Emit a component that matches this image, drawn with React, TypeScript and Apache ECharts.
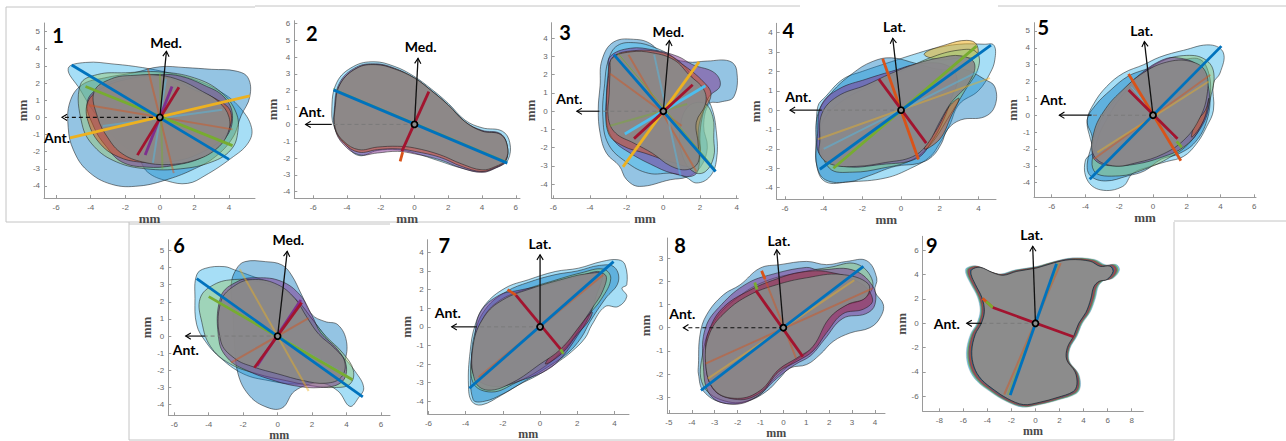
import React, { useEffect, useRef } from 'react';
import * as echarts from 'echarts';

type Pt = [number, number];

// ---------------- axis data (mm) ----------------
const X_TICKS: number[][] = [
  [-6, -4, -2, 0, 2, 4],
  [-6, -4, -2, 0, 2, 4, 6],
  [-6, -4, -2, 0, 2, 4],
  [-6, -4, -2, 0, 2, 4],
  [-6, -4, -2, 0, 2, 4, 6],
  [-6, -4, -2, 0, 2, 4, 6],
  [-6, -4, -2, 0, 2, 4],
  [-5, -4, -3, -2, -1, 0, 1, 2, 3, 4],
  [-8, -6, -4, -2, 0, 2, 4, 6, 8],
];
const Y_TICKS: number[][] = [
  [-4, -3, -2, -1, 0, 1, 2, 3, 4, 5],
  [-4, -3, -2, -1, 0, 1, 2, 3, 4, 5, 6],
  [-4, -3, -2, -1, 0, 1, 2, 3, 4],
  [-4, -3, -2, -1, 0, 1, 2, 3, 4],
  [-4, -3, -2, -1, 0, 1, 2, 3, 4, 5],
  [-4, -3, -2, -1, 0, 1, 2, 3, 4, 5],
  [-4, -3, -2, -1, 0, 1, 2, 3, 4],
  [-3, -2, -1, 0, 1, 2, 3],
  [-6, -4, -2, 0, 2, 4, 6],
];
const X_RANGE: Pt[] = [[-6.7, 5.5], [-7.12, 6.25], [-6.09, 4.09], [-6.43, 4.91], [-7.05, 6.1], [-6.35, 6.53], [-6.04, 4.78], [-5.07, 4.44], [-9.38, 8.97]];
const Y_RANGE: Pt[] = [[-4.7, 5.5], [-4.39, 6.16], [-4.77, 4.85], [-4.6, 4.48], [-4.87, 5.49], [-4.62, 5.62], [-4.68, 4.68], [-3.68, 3.87], [-7.23, 7.15]];
const AXIS_NAME = 'mm';

// ---------------- annotations ----------------
const PANEL_NUMBERS = ['1', '2', '3', '4', '5', '6', '7', '8', '9'];
const DIRECTION_LABELS = ['Med.', 'Med.', 'Med.', 'Lat.', 'Lat.', 'Med.', 'Lat.', 'Lat.', 'Lat.'];
const ANT_LABEL = 'Ant.';
const DIRECTION_TIPS: Pt[] = [[0.38, 3.85], [0.21, 3.92], [0.33, 3.87], [-0.43, 3.71], [-0.51, 4.37], [0.56, 4.94], [0, 3.87], [-0.29, 3.36], [-0.23, 6.33]];
const ANT_TIPS = [-5.66, -6.45, -4.72, -5.74, -5.55, -5.34, -4.75, -4.37, -5.72];
const ANT_SOLID_FROM: (number | null)[] = [null, -4.9, -3.5, -4.1, -3.64, -4.22, -3.4, null, -4.47];

// ---------------- outlines (mm) ----------------
const P1_OUTLINES: Record<string, Pt[]> = {
  cyan: [[-5.3, 2.85], [-4.3, 3.2], [-2.6, 3.1], [-1, 2.9], [0.5, 2.6], [2, 2.2], [3.5, 1.5], [4.6, 0.6], [5.3, -0.6], [5.1, -1.5], [4.1, -2.4], [2.6, -3.4], [1.6, -3.85], [0.4, -3.7], [-0.7, -3.2], [-1.3, -2.3], [-2.5, -1.3], [-3.8, 0.3], [-4.6, 1.6]],
  blue: [[-5.2, 0.9], [-4.5, 1.9], [-3.2, 2.3], [-1.5, 2.6], [0, 2.95], [1.5, 2.9], [3, 2.8], [4.4, 2.7], [5.1, 2.3], [5.2, 1.2], [4.7, 0.1], [4.2, -1.2], [3.2, -2.3], [2, -3.0], [0.5, -3.6], [-1.2, -4.0], [-2.8, -3.9], [-4.2, -3.1], [-5, -1.9], [-5.3, -0.6]],
  green: [[-4.6, 1.9], [-3.6, 2.5], [-2, 2.6], [0, 2.65], [2, 2.3], [3.5, 1.5], [4.4, 0.3], [4.5, -0.9], [4.1, -1.9], [3, -2.6], [1.2, -3.0], [-0.8, -3.0], [-2.5, -2.6], [-3.8, -1.7], [-4.5, -0.4]],
  purple: [[-4.2, 0.9], [-3.8, -0.6], [-3.1, -1.7], [-2.2, -2.6], [-0.8, -2.9], [0.8, -2.8], [2.5, -2.3], [3.8, -1.2], [4.2, 0.1], [3.7, 1.2], [2.5, 1.9], [1.2, 2.4], [0, 2.5], [-2, 2.3], [-3.4, 1.8]],
  orange: [[-4.2, 0.8], [-4.1, -0.4], [-3.4, -1.6], [-2.4, -2.3], [-1.2, -2.6], [0.5, -2.6], [2.3, -2.1], [3.8, -1.0], [4.1, 0.3], [3.2, 1.1], [2, 1.6], [1, 2.1], [0, 2.4], [-2, 2.2], [-3.5, 1.6]],
  gray: [[-3.8, 1.5], [-2.8, 2.25], [-1.5, 2.45], [0, 2.45], [1.2, 2.15], [2.3, 1.6], [3.4, 0.9], [4.0, 0], [3.9, -1.0], [3.2, -1.9], [2, -2.5], [0.5, -2.75], [-1, -2.6], [-2.2, -2.1], [-3.0, -1.2], [-3.6, 0]],
};
const P2_OUTLINES: Record<string, Pt[]> = {
  cyan: [[-4.9, 0.8], [-4.6, 2.5], [-3.6, 3.45], [-2.4, 3.72], [-1.2, 3.45], [-0.1, 2.9], [1, 2.1], [2, 1.25], [3, 0.25], [4, -0.2], [5.2, -0.4], [5.65, -1.1], [5.55, -2.1], [5.1, -2.45], [4, -2.8], [2.8, -2.6], [1.4, -2.15], [0, -1.7], [-1, -1.5], [-2.2, -1.55], [-3.3, -1.85], [-4.1, -1.15], [-4.7, -0.3]],
  purple: [[-4.75, 0.9], [-4.45, 2.45], [-3.45, 3.4], [-2.3, 3.6], [-1.2, 3.35], [0, 2.75], [1, 2.0], [2, 1.15], [3, 0.15], [4, -0.35], [5.1, -0.55], [5.5, -1.3], [5.4, -2.2], [4.8, -2.6], [4, -2.85], [2.8, -2.6], [1.5, -2.1], [0, -1.75], [-1, -1.6], [-2.2, -1.7], [-3.3, -1.8], [-4.2, -1.2], [-4.7, -0.3]],
  orange: [[-4.7, 0.95], [-4.4, 2.4], [-3.4, 3.35], [-2.3, 3.55], [-1.2, 3.3], [0, 2.75], [1, 2.0], [2, 1.15], [3, 0.15], [4, -0.4], [5.1, -0.6], [5.5, -1.3], [5.4, -2.15], [4.8, -2.55], [4, -2.8], [2.8, -2.5], [1.5, -1.95], [0, -1.6], [-1, -1.45], [-2.2, -1.5], [-3.3, -1.65], [-4.2, -1.1], [-4.7, -0.25]],
  gray: [[-4.7, 1.0], [-4.4, 2.4], [-3.4, 3.35], [-2.3, 3.55], [-1.2, 3.3], [0, 2.75], [1, 2.0], [2, 1.15], [3, 0.15], [4, -0.4], [5.1, -0.6], [5.5, -1.3], [5.4, -2.1], [4.8, -2.5], [4, -2.7], [2.8, -2.35], [1.5, -1.8], [0, -1.4], [-1, -1.3], [-2.2, -1.35], [-3.3, -1.5], [-4.2, -1.0], [-4.7, -0.2]],
};
const P3_OUTLINES: Record<string, Pt[]> = {
  blue: [[-2.7, 3.8], [-1.45, 3.93], [-0.7, 3.7], [0, 3.1], [1.3, 2.7], [2.4, 2.75], [3.6, 2.75], [4.0, 2.25], [3.85, 0.8], [3.1, 0.5], [2.5, 0.4], [2.2, -0.8], [2.4, -2.0], [2.0, -3.1], [1.3, -3.6], [0.4, -3.75], [-1.3, -4.12], [-2.0, -3.75], [-2.4, -3.0], [-3.1, -2.3], [-3.45, -1.2], [-3.55, 0.1], [-3.45, 1.4], [-3.35, 2.8]],
  cyan: [[-2.5, 3.6], [-1.5, 3.75], [-0.5, 3.5], [0.5, 3.0], [1.2, 2.4], [2.0, 1.2], [2.6, 0.3], [2.9, -1.2], [2.9, -2.66], [2.55, -3.57], [1.82, -3.93], [1.2, -3.6], [0.5, -3.4], [-0.8, -3.4], [-2.0, -2.8], [-3.0, -1.8], [-3.3, -0.3], [-3.2, 1.5], [-3.0, 2.8]],
  purple: [[-2.9, 3.0], [-1.8, 3.45], [-0.5, 3.35], [0.8, 3.0], [1.6, 2.55], [2.8, 2.1], [3.1, 1.4], [2.5, 0.8], [2.2, 0], [2.0, -1.2], [2.0, -2.5], [1.7, -3.5], [0.5, -3.4], [-0.7, -2.9], [-1.8, -2.3], [-2.7, -1.6], [-3.1, -0.6], [-3.1, 1.0], [-3.0, 2.2]],
  orange: [[-2.8, 2.9], [-1.8, 3.3], [0, 3.2], [1, 2.6], [2.2, 1.6], [2.6, 0.9], [2.1, -0.2], [1.9, -1.2], [2.0, -2.3], [1.6, -3.0], [0.5, -2.8], [-1.0, -2.3], [-2.2, -1.9], [-3.0, -1.2], [-3.1, 0.5], [-3.0, 1.8]],
  green: [[1.3, 0.2], [2.2, 0.45], [2.7, -0.3], [2.75, -1.5], [2.75, -2.5], [2.3, -3.3], [1.7, -3.35], [1.1, -2.6], [0.9, -1.2]],
  gray: [[-2.8, 2.9], [-1.8, 3.25], [-0.6, 3.2], [0.6, 2.8], [1.4, 2.0], [2.2, 1.2], [2.3, 0.4], [1.8, -0.6], [1.9, -1.8], [1.9, -2.8], [1.3, -3.2], [0.4, -3.0], [-0.6, -2.3], [-1.6, -1.75], [-2.6, -1.2], [-3.0, -0.4], [-2.95, 1.0], [-2.9, 2.2]],
};
const P4_OUTLINES: Record<string, Pt[]> = {
  cyan: [[-4.35, -2.9], [-4.35, -1.2], [-4.3, 0.2], [-3.9, 0.7], [-3.0, 1.6], [-2.0, 2.0], [-0.5, 2.5], [0.9, 2.95], [1.8, 3.2], [3.0, 3.4], [4.3, 3.4], [4.8, 3.35], [4.85, 2.6], [4.6, 1.9], [4.0, 1.0], [3.0, 0.3], [2.5, -0.8], [2.0, -1.7], [1.5, -2.4], [0.5, -3.0], [-0.8, -3.5], [-2.7, -3.7], [-3.9, -3.7]],
  blue: [[-4.4, -1.8], [-4.3, -0.2], [-3.6, 0.9], [-2.5, 1.9], [-1.5, 2.5], [-0.5, 2.7], [0.8, 2.4], [2, 2.1], [3.3, 2.1], [4.3, 1.6], [4.85, 1.2], [4.85, 0.2], [4.3, -0.35], [3.1, -0.5], [2.4, -1.0], [2.1, -1.7], [1.6, -2.4], [0.9, -2.75], [-0.3, -2.9], [-1.7, -3.4], [-2.7, -3.7], [-3.9, -3.6], [-4.35, -2.9]],
  yellow: [[1.2, 2.9], [2.4, 3.4], [3.4, 3.6], [3.9, 3.4], [3.9, 2.8], [3.0, 2.7], [2.0, 2.6]],
  green: [[-4.2, -1.5], [-4.0, -0.5], [-3, 0.5], [-1.5, 1.3], [0, 2.0], [1.5, 2.7], [3, 3.1], [3.9, 3.0], [4.0, 2.2], [3.3, 1.0], [2.5, -0.3], [1.5, -1.8], [0.5, -2.6], [-1, -3.0], [-2.5, -3.2], [-3.7, -3.0]],
  purple: [[-4.1, 0.3], [-3.2, 1.1], [-1.8, 1.6], [-0.5, 2.0], [1.0, 2.4], [2.4, 2.3], [2.9, 1.6], [2.6, 0.6], [2.2, -0.5], [1.6, -1.6], [0.8, -2.5], [-1, -2.8], [-3, -2.9], [-4.2, -2.3], [-4.3, -1]],
  orange: [[1.2, -2.0], [1.9, -0.9], [2.5, 0.2], [3, 0.6], [2.6, -0.3], [2.0, -1.5]],
  gray: [[-4.2, -1.6], [-4.1, -0.2], [-3.3, 0.7], [-1.8, 1.3], [-0.5, 1.9], [0.8, 2.4], [2, 2.7], [3.1, 2.8], [3.8, 2.4], [3.5, 1.4], [2.6, 0.4], [2, -0.6], [1.4, -1.7], [0.6, -2.4], [-0.8, -2.7], [-2.3, -2.9], [-3.6, -2.8], [-4.2, -2.3]],
};
const P5_OUTLINES: Record<string, Pt[]> = {
  cyan: [[3.4, 4.17], [4.17, 3.7], [3.97, 2.5], [3.58, 1.9], [3.58, 0.3], [3.18, -0.67], [2.6, -1.66], [1.8, -2.45], [0.8, -2.75], [-0.2, -3.05], [-1.2, -3.45], [-1.8, -4.23], [-3.1, -4.43], [-3.9, -3.83], [-4.0, -2.65], [-3.5, -2.15], [-3.7, -1.45], [-3.9, -0.3], [-3.5, 0.7], [-2.75, 1.7], [-1.75, 2.5], [-0.55, 3.0], [0.4, 3.45], [1.8, 3.85]],
  blue: [[-3.9, -2.9], [-3.6, -1.4], [-3.9, -0.3], [-3.4, 0.6], [-2.5, 1.5], [-1.5, 2.3], [-0.5, 2.7], [0.5, 3.0], [1.8, 3.3], [2.8, 3.3], [3.3, 2.5], [3.4, 1.3], [3.2, -0.3], [2.5, -1.6], [1.5, -2.3], [0.5, -2.6], [-0.5, -3.3], [-1.5, -3.6], [-2.8, -3.9], [-3.7, -3.6]],
  green: [[-3.5, -3.3], [-3.3, -1.5], [-2.6, 0], [-1.8, 1.2], [-0.8, 2.3], [0.5, 3.2], [2, 3.55], [3.1, 3.3], [3.6, 2.5], [3.4, 1.0], [3.0, -0.3], [2.2, -1.6], [1.0, -2.5], [-0.5, -3.2], [-2, -3.6]],
  purple: [[-3.6, -2.0], [-3.1, -0.3], [-2.0, 1.2], [-0.8, 2.4], [0.6, 3.3], [1.5, 3.4], [2.6, 3.0], [3.2, 2.0], [3.3, 0.5], [2.8, -0.8], [1.8, -1.9], [0.5, -2.5], [-1, -2.9], [-2.5, -3.0], [-3.4, -2.7]],
  orange: [[2.5, -0.5], [3.1, 0.3], [3.3, 1.0], [3.0, -0.3], [2.3, -1.3]],
  gray: [[-3.5, -2.4], [-3.5, -1.0], [-2.8, 0.4], [-1.8, 1.5], [-0.6, 2.5], [0.8, 3.15], [2.2, 3.2], [3.1, 2.6], [3.2, 1.2], [2.7, -0.3], [1.8, -1.5], [0.6, -2.3], [-0.9, -2.8], [-2.4, -3.0]],
};
const P6_OUTLINES: Record<string, Pt[]> = {
  cyan: [[-4.7, 3.57], [-4.2, 3.95], [-3.1, 4.05], [-2.5, 3.86], [-1.5, 3.5], [-0.2, 3.0], [1.0, 2.2], [2, 1.0], [3, -0.3], [3.8, -1.2], [4.5, -2.05], [5.0, -3.0], [4.7, -3.6], [4.2, -4.1], [3.5, -3.2], [2.4, -2.7], [1.0, -2.8], [-0.5, -2.6], [-2, -2.2], [-3.4, -1.2], [-4.2, -0.3], [-4.7, 0.66], [-4.8, 2.2]],
  blue: [[-1.9, 4.34], [-0.7, 4.34], [0.25, 4.15], [0.8, 3.57], [1.4, 2.4], [2, 1.25], [2.75, 0.85], [3.5, 0.66], [4.0, -0.3], [3.9, -1.5], [3.5, -2.4], [2.4, -2.65], [1.0, -3.2], [0.25, -4.2], [-0.75, -4.1], [-1.7, -3.4], [-2.3, -2.2], [-2.5, -0.5], [-2.6, 1.5], [-2.7, 3.0], [-2.4, 3.9]],
  green: [[-4.5, 2.2], [-3.7, 3.0], [-2.5, 3.3], [-1.2, 3.2], [0, 2.8], [1.2, 2.0], [2.0, 1.0], [2.8, 0], [3.8, -1.0], [4.4, -2.0], [4.2, -2.8], [3.3, -3.0], [2.0, -2.9], [0.5, -2.6], [-1.2, -2.2], [-2.8, -1.6], [-3.9, -0.6], [-4.4, 0.8]],
  purple: [[-3.3, 2.3], [-2.3, 3.2], [-1.2, 3.4], [0.2, 3.2], [1.3, 2.4], [2.0, 1.2], [2.5, 0.2], [3.5, -0.8], [4.0, -1.8], [3.7, -2.7], [2.5, -3.0], [1.0, -2.9], [-0.5, -2.5], [-1.8, -2.0], [-2.8, -1.4], [-3.4, -0.3]],
  gray: [[-3.3, 2.0], [-2.4, 3.0], [-1.3, 3.3], [0, 3.0], [1.0, 2.2], [1.7, 1.1], [2.4, 0.1], [3.3, -0.7], [3.9, -1.5], [3.7, -2.4], [2.8, -2.75], [1.5, -2.6], [0, -2.2], [-1.4, -1.8], [-2.5, -1.3], [-3.3, -0.3]],
};
const P7_OUTLINES: Record<string, Pt[]> = {
  cyan: [[4.57, 3.33], [4.66, 2.26], [4.4, 2.08], [4.66, 1.63], [4.2, 1.09], [3.5, 1.09], [2.78, 0.1], [2.42, -0.6], [1.7, -1.33], [1.0, -1.86], [-0.1, -2.58], [-1.16, -3.12], [-2.06, -3.66], [-3.14, -4.19], [-3.67, -4.0], [-3.85, -3.12], [-3.76, -1.33], [-3.49, 0.1], [-2.96, 1.18], [-1.88, 2.08], [-0.63, 2.53], [0.81, 2.97], [2.06, 3.15], [3.32, 3.51], [4.21, 3.6]],
  blue: [[-3.6, -3.9], [-3.7, -2.0], [-3.5, -0.3], [-2.9, 1.0], [-1.8, 1.9], [-0.6, 2.4], [0.8, 2.8], [2.0, 3.0], [3.2, 3.3], [4.0, 3.2], [4.2, 2.4], [3.5, 1.5], [2.7, 0.3], [2.2, -0.6], [1.5, -1.4], [0.5, -2.1], [-0.8, -2.9], [-2.0, -3.6], [-3.0, -4.0]],
  green: [[-3.6, -3.0], [-3.6, -1.2], [-3.1, 0.4], [-2.2, 1.4], [-0.8, 2.0], [0.8, 2.5], [2.2, 2.9], [3.4, 3.1], [3.8, 2.6], [3.3, 1.5], [2.5, 0.5], [1.8, -0.6], [1.0, -1.5], [0, -2.3], [-1.3, -3.0], [-2.6, -3.5]],
  purple: [[-3.6, -2.5], [-3.5, -0.5], [-3.2, 0.8], [-2.2, 1.7], [-1.2, 1.95], [0.5, 2.3], [2, 2.7], [3.3, 2.9], [3.0, 1.6], [2.6, 0.5], [2.0, -0.5], [1.2, -1.6], [0.4, -2.3], [-0.8, -2.8], [-2.5, -3.2]],
  red: [[0.3, -2.0], [1.2, -1.4], [2.0, -0.4], [2.6, 0.3], [2.8, 0.8], [2.3, 0.3], [1.5, -0.7], [0.6, -1.5]],
  gray: [[-3.5, -2.9], [-3.6, -1.0], [-3.0, 0.55], [-2.0, 1.45], [-0.5, 2.05], [1.0, 2.5], [2.5, 2.85], [3.5, 2.8], [3.4, 2.0], [2.8, 1.0], [2.1, 0], [1.1, -1.2], [0.0, -2.0], [-1.5, -3.0], [-2.8, -3.4]],
};
const P8_OUTLINES: Record<string, Pt[]> = {
  blue: [[-3.71, -1.6], [-3.64, -0.3], [-3.35, 0.56], [-2.62, 1.42], [-1.89, 1.85], [-1.02, 2.57], [-0.15, 2.72], [1.02, 2.86], [1.89, 2.72], [2.77, 2.86], [3.64, 2.89], [4.08, 2.14], [4.0, 1.57], [4.37, 0.99], [4.22, 0.42], [3.78, 0.0], [2.91, -0.23], [2.18, -0.59], [1.6, -1.16], [1.02, -1.59], [0.29, -1.74], [-0.15, -2.17], [-0.73, -2.74], [-1.6, -3.18], [-2.62, -3.25], [-3.49, -2.74], [-3.71, -2.0]],
  green: [[-3.5, -2.5], [-3.5, -1], [-3.0, 0.3], [-2.0, 1.3], [-0.8, 2.0], [0.8, 2.4], [2, 2.6], [3.2, 2.75], [3.9, 2.0], [3.6, 1.3], [2.6, 0.9], [1.8, 0.2], [1.2, -0.9], [0.4, -1.5], [-0.4, -2.2], [-1.2, -3.0], [-2.4, -3.2]],
  purple: [[-3.5, -1.5], [-3.4, 0], [-2.7, 1.0], [-1.6, 1.9], [-0.5, 2.3], [1, 2.6], [1.5, 2.5], [3, 2.5], [3.9, 1.8], [4.0, 1.0], [3.6, 0.6], [2.6, 0.4], [1.8, -0.5], [1.2, -1.2], [0.5, -1.6], [-0.3, -2.2], [-1.2, -3.0], [-2.2, -3.3], [-3.2, -2.9]],
  red: [[-3.4, -1.0], [-3.2, 0], [-2.6, 0.9], [-1.5, 1.6], [-0.3, 2.1], [0.8, 2.4], [2, 2.4], [3.4, 1.9], [3.9, 1.2], [3.5, 0.8], [2.6, 0.6], [1.9, -0.2], [1.3, -1.0], [0.6, -1.45], [-0.2, -1.9], [-1, -2.8], [-2, -3.1], [-3.1, -2.6]],
  gray: [[-3.4, -1.5], [-3.2, -0.2], [-2.5, 0.7], [-1.5, 1.4], [-0.3, 1.85], [1, 2.15], [2.5, 2.3], [3.7, 1.9], [3.6, 1.3], [2.8, 1.0], [2, 0.4], [1.3, -0.8], [0.6, -1.3], [-0.2, -1.8], [-1, -2.7], [-2, -3.05], [-3.0, -2.7]],
};
const P9_OUTLINE: Pt[] = [[-5.3, 4.41], [-4.6, 4.6], [-3.5, 4.14], [-2.66, 3.95], [-1.55, 4.27], [0.11, 4.55], [1.5, 4.96], [2.88, 5.23], [4.55, 5.1], [5.38, 4.68], [6.2, 4.7], [6.45, 4.25], [5.95, 3.6], [5.3, 3.45], [4.85, 3.0], [4.6, 2.0], [4.2, 0.9], [3.6, 0.0], [3.2, -1.0], [2.65, -2.0], [2.6, -3.0], [3.3, -4.0], [3.45, -5.0], [3.15, -5.6], [1.8, -6.1], [0.3, -6.5], [-1.0, -6.68], [-2.3, -6.2], [-3.4, -5.5], [-4.5, -4.6], [-5.1, -3.6], [-5.3, -2.3], [-5.0, -0.9], [-4.5, 0.0], [-4.25, 1.0], [-4.45, 2.1], [-5.0, 3.2], [-5.35, 4.0]];

// ---------------- diameters (mm endpoints) ----------------
const P1_DIAMETERS: Record<string, Pt[]> = {
  orange_f: [[-0.7, 2.85], [0.8, -3.25]],
  orange_f2: [[-4.1, 0.7], [4.2, -0.7]],
  green_f: [[0, 2.55], [0.15, -3.0]],
  cyan_f: [[-0.4, -2.65], [0.35, 2.25]],
  cyan_f2: [[-3.3, -0.5], [3.6, 0.45]],
  yellow: [[-5.2, -1.2], [5.2, 1.25]],
  green: [[-4.3, 1.8], [4.2, -1.65]],
  blue: [[-5.1, 3.05], [4.0, -2.45]],
  purple: [[-0.85, -2.2], [0.7, 1.8]],
  red: [[-1.3, -2.2], [1.1, 1.75]],
};
const P2_DIAMETERS: Record<string, Pt[]> = {
  green_t: [[-4.8, 2.12], [5.5, -2.22]],
  blue: [[-4.8, 2.05], [5.5, -2.3]],
  orange: [[-0.85, -2.2], [-0.7, -1.65]],
  red: [[-0.75, -1.6], [0.85, 1.95]],
};
const P3_DIAMETERS: Record<string, Pt[]> = {
  orange_f: [[-1.9, 3.1], [1.8, -3.3]],
  orange_f2: [[-2.9, 2.05], [1.0, -0.8]],
  cyan_f: [[-0.5, 3.1], [0.95, -3.6]],
  green_f: [[-2.9, -0.8], [1.3, 0.4]],
  green_t: [[-2.5, 3.2], [2.85, -3.2]],
  yellow: [[-2.2, -3.05], [1.95, 2.7]],
  blue: [[-2.7, 3.1], [2.85, -3.3]],
  cyan: [[-2.1, -1.25], [2.3, 1.4]],
  red: [[-1.6, -1.5], [1.6, 1.45]],
};
const P4_DIAMETERS: Record<string, Pt[]> = {
  yellow_f: [[-4.3, -1.5], [4.6, 1.65]],
  cyan_f: [[-4.0, -2.0], [4.0, 2.0]],
  orange: [[-0.95, 2.65], [0.9, -2.55]],
  green: [[-3.5, -3.0], [3.9, 3.3]],
  blue: [[-4.2, -3.05], [4.65, 3.35]],
  red: [[-1.15, 1.6], [1.3, -1.7]],
};
const P5_DIAMETERS: Record<string, Pt[]> = {
  orange_f: [[-3.5, -2.6], [3.4, 2.4]],
  yellow_f: [[-3.3, -2.2], [3.3, 2.0]],
  cyan_t: [[-1.3, 1.7], [1.2, -1.3]],
  orange: [[-1.45, 2.45], [1.65, -2.7]],
  green: [[1.4, -1.55], [1.7, -1.9]],
  blue: [[-3.75, -3.8], [4.05, 4.1]],
  red: [[-1.45, 1.5], [1.45, -1.4]],
};
const P6_DIAMETERS: Record<string, Pt[]> = {
  yellow_f: [[-2.2, 3.9], [1.8, -3.2]],
  orange_f: [[-2.7, -1.55], [1.8, 1.05]],
  cyan_f: [[-3.6, 2.1], [4.0, -2.3]],
  green: [[-4.0, 2.3], [4.35, -2.55]],
  blue: [[-4.7, 3.35], [4.95, -3.55]],
  purple: [[-1.2, -1.75], [1.35, 2.1]],
  red: [[-1.35, -1.85], [1.4, 1.95]],
};
const P7_DIAMETERS: Record<string, Pt[]> = {
  orange_f: [[-3.3, -2.7], [3.4, 2.8]],
  blue: [[-3.8, -3.3], [3.95, 3.5]],
  orange: [[-1.75, 2.0], [-1.3, 1.7]],
  green: [[1.1, -1.2], [1.25, -1.45]],
  red: [[-1.3, 1.7], [1.1, -1.2]],
};
const P8_DIAMETERS: Record<string, Pt[]> = {
  orange_f: [[-3.4, -1.55], [3.9, 1.7]],
  yellow_f: [[-3.3, -2.2], [3.1, 2.05]],
  orange_f2: [[-0.95, 2.45], [0.55, -1.3]],
  blue: [[-3.6, -2.7], [3.5, 2.65]],
  orange: [[-0.95, 2.45], [-0.8, 2.1]],
  green: [[-1.25, 1.95], [-1.15, 1.65]],
  red: [[-1.2, 1.6], [0.85, -1.25]],
};
const P9_DIAMETERS: Record<string, Pt[]> = {
  orange_f: [[-2.6, -5.85], [2.1, 4.95]],
  green_f: [[-2.3, -5.9], [1.9, 4.95]],
  orange: [[-4.4, 2.05], [-3.55, 1.3]],
  green: [[-4.1, 1.8], [-3.55, 1.3]],
  blue: [[-2.1, -5.9], [1.75, 4.9]],
  red: [[-3.55, 1.3], [3.15, -1.1]],
};

const OUTLINES = [P1_OUTLINES, P2_OUTLINES, P3_OUTLINES, P4_OUTLINES, P5_OUTLINES, P6_OUTLINES, P7_OUTLINES, P8_OUTLINES, null];
const DIAMETERS = [P1_DIAMETERS, P2_DIAMETERS, P3_DIAMETERS, P4_DIAMETERS, P5_DIAMETERS, P6_DIAMETERS, P7_DIAMETERS, P8_DIAMETERS, P9_DIAMETERS];

// ---------------- layout & style (pixels) ----------------
const LAYOUT = [
  { box: [44, 23, 255, 198], num: [58, 35], dir: [166, 42], ant: [57, 137] },
  { box: [294.3, 20.7, 520, 198.3], num: [311.7, 33], dir: [420.7, 46.7], ant: [311.7, 111.7] },
  { box: [551.7, 22.7, 738.3, 198.3], num: [565, 31.7], dir: [668.3, 31.7], ant: [569.3, 98.3] },
  { box: [776.7, 23.3, 996, 199.3], num: [788.3, 30], dir: [894.3, 26.7], ant: [798.3, 96.7] },
  { box: [1034, 22.7, 1256, 197.3], num: [1043.3, 26.7], dir: [1141.7, 30], ant: [1053.3, 99.3] },
  { box: [168.3, 239.7, 390, 415.3], num: [179, 244.7], dir: [288.3, 239.7], ant: [185.7, 349.7] },
  { box: [427.7, 239.7, 629, 414], num: [444.3, 244.7], dir: [540, 243], ant: [447.7, 312.3] },
  { box: [667.3, 238, 885, 413], num: [680, 244.7], dir: [779, 240.7], ant: [682.3, 313] },
  { box: [922.7, 236.3, 1143.3, 411.3], num: [931.7, 244.7], dir: [1031.7, 234.7], ant: [946.7, 323] },
];
const FRAME_LINES = [
  [6, 7, 255, 7], [255, 6, 800, 6], [998, 6, 1286, 6], [6, 7, 6, 222], [6, 222, 630, 222],
  [1174, 221, 1286, 221], [129, 224, 390, 224], [129, 222, 129, 440], [129, 440, 1174, 440], [1174, 222, 1174, 440],
];

const MATLAB: Record<string, string> = {
  blue: '#0072BD', orange: '#D95319', yellow: '#EDB120', purple: '#7E2F8E', green: '#77AC30', cyan: '#4DBEEE', red: '#A2142F',
};
const FILL: Record<string, string> = {
  cyan: 'rgba(77,190,238,0.5)',
  blue: 'rgba(0,114,189,0.42)',
  green: 'rgba(150,200,110,0.45)',
  purple: 'rgba(126,47,142,0.5)',
  orange: 'rgba(217,83,25,0.5)',
  red: 'rgba(162,20,47,0.45)',
  yellow: 'rgba(237,177,32,0.55)',
  gray: 'rgba(138,138,138,0.93)',
};
const EDGE = 'rgba(25,25,25,0.75)';
const P9_BANDS: [string, number][] = [['cyan', 1.085], ['green', 1.068], ['purple', 1.051], ['orange', 1.034], ['blue', 1.017], ['gray', 1]];

function lineStyleOf(key: string) {
  const [base, mod] = key.split('_');
  const faded = !!mod && mod.startsWith('f');
  const thin = mod === 't';
  return {
    stroke: MATLAB[base],
    lineWidth: thin ? 1 : faded ? 2 : 2.8,
    opacity: faded ? 0.45 : thin ? 0.8 : 1,
  };
}

function arrowHead(tip: number[], from: number[]) {
  const dx = tip[0] - from[0];
  const dy = tip[1] - from[1];
  const len = Math.hypot(dx, dy) || 1;
  const ux = dx / len, uy = dy / len;
  const L = 6, a = 0.55;
  const rot = (c: number, s: number) => [tip[0] - L * (ux * c - uy * s), tip[1] - L * (ux * s + uy * c)];
  const p1 = rot(Math.cos(a), Math.sin(a));
  const p2 = rot(Math.cos(-a), Math.sin(-a));
  return { type: 'polyline', shape: { points: [p1, tip, p2] }, style: { stroke: '#000', lineWidth: 1.1, fill: null } };
}

export default function App() {
  const ref = useRef<HTMLDivElement>(null);
  useEffect(() => {
    if (!ref.current) return;
    const chart = echarts.init(ref.current, undefined, { renderer: 'svg' });
    const grid: any[] = [];
    const xAxis: any[] = [];
    const yAxis: any[] = [];
    const series: any[] = [];
    const graphic: any[] = [];

    LAYOUT.forEach((L, i) => {
      const [l, t, r, b] = L.box;
      const bottomRow = i >= 5;
      grid.push({ left: l, top: t, width: r - l, height: b - t, containLabel: false, outerBoundsMode: 'none' });
      const axisCommon = {
        type: 'value',
        axisLine: { show: true, onZero: false, lineStyle: { color: '#9a9a9a', width: 1 } },
        splitLine: { show: false },
        name: AXIS_NAME,
        nameLocation: 'middle',
        nameTextStyle: { fontFamily: 'Liberation Serif', fontSize: 13, fontWeight: 'bold', color: '#4a4a4a' },
      };
      xAxis.push({
        ...axisCommon,
        gridIndex: i,
        min: X_RANGE[i][0],
        max: X_RANGE[i][1],
        nameGap: bottomRow ? 9 : 13,
        nameTextStyle: { fontFamily: 'Liberation Serif', fontSize: bottomRow ? 12 : 13, fontWeight: 'bold', color: '#4a4a4a' },
        axisTick: { show: true, inside: true, length: 3, customValues: X_TICKS[i], lineStyle: { color: '#9a9a9a' } },
        axisLabel: { customValues: X_TICKS[i], fontSize: 8, color: '#666', margin: 5, fontFamily: 'Liberation Sans' },
      });
      yAxis.push({
        ...axisCommon,
        gridIndex: i,
        min: Y_RANGE[i][0],
        max: Y_RANGE[i][1],
        nameGap: 8,
        nameRotate: 90,
        axisTick: { show: true, inside: true, length: 3, customValues: Y_TICKS[i], lineStyle: { color: '#9a9a9a' } },
        axisLabel: { customValues: Y_TICKS[i], fontSize: 8, color: '#666', margin: 4, fontFamily: 'Liberation Sans' },
      });

      // outlines
      if (i < 8) {
        const layers = Object.entries(OUTLINES[i] as Record<string, Pt[]>);
        series.push({
          type: 'custom', coordinateSystem: 'cartesian2d', xAxisIndex: i, yAxisIndex: i, silent: true, clip: false, z: 2,
          data: layers.map((ly) => ly[1][0]),
          renderItem: (params: any, api: any) => {
            const [name, pts] = layers[params.dataIndex];
            return {
              type: 'polygon',
              shape: { points: pts.map((p) => api.coord(p)), smooth: 0.4 },
              style: { fill: FILL[name], stroke: EDGE, lineWidth: 0.7 },
            };
          },
        });
      } else {
        series.push({
          type: 'custom', coordinateSystem: 'cartesian2d', xAxisIndex: i, yAxisIndex: i, silent: true, clip: false, z: 2,
          data: P9_BANDS.map(() => P9_OUTLINE[0]),
          renderItem: (params: any, api: any) => {
            const [name, s] = P9_BANDS[params.dataIndex];
            const o = api.coord([0, 0]);
            return {
              type: 'polygon',
              originX: o[0], originY: o[1],
              scaleX: s, scaleY: 1 + (s - 1) * 0.35,
              shape: { points: P9_OUTLINE.map((p) => api.coord(p)), smooth: 0.35 },
              style: name === 'gray'
                ? { fill: 'rgb(140,140,140)', stroke: 'rgba(30,30,30,0.85)', lineWidth: 0.8 }
                : { fill: MATLAB[name], stroke: 'rgba(60,60,60,0.5)', lineWidth: 0.4, opacity: 0.75 },
            };
          },
        });
      }

      // diameters
      const segs = Object.entries(DIAMETERS[i]);
      series.push({
        type: 'custom', coordinateSystem: 'cartesian2d', xAxisIndex: i, yAxisIndex: i, silent: true, clip: false, z: 3,
        data: segs.map((s) => s[1][0]),
        renderItem: (params: any, api: any) => {
          const [key, pts] = segs[params.dataIndex];
          const a = api.coord(pts[0]);
          const b2 = api.coord(pts[1]);
          return { type: 'line', shape: { x1: a[0], y1: a[1], x2: b2[0], y2: b2[1] }, style: { ...lineStyleOf(key), lineCap: 'butt' } };
        },
      });

      // arrows & origin
      series.push({
        type: 'custom', coordinateSystem: 'cartesian2d', xAxisIndex: i, yAxisIndex: i, silent: true, clip: false, z: 4,
        data: [[0, 0]],
        renderItem: (_p: any, api: any) => {
          const o = api.coord([0, 0]);
          const tip = api.coord(DIRECTION_TIPS[i]);
          const antTip = api.coord([ANT_TIPS[i], 0]);
          const children: any[] = [];
          const from = ANT_SOLID_FROM[i];
          if (from === null) {
            children.push({ type: 'line', shape: { x1: o[0], y1: o[1], x2: antTip[0], y2: antTip[1] }, style: { stroke: '#111', lineWidth: 1.1, lineDash: [4, 3] } });
          } else {
            const s = api.coord([from, 0]);
            children.push({ type: 'line', shape: { x1: o[0], y1: o[1], x2: s[0], y2: s[1] }, style: { stroke: '#7a7a7a', lineWidth: 1, lineDash: [4, 3] } });
            children.push({ type: 'line', shape: { x1: s[0], y1: s[1], x2: antTip[0], y2: antTip[1] }, style: { stroke: '#111', lineWidth: 1.2 } });
          }
          children.push(arrowHead(antTip, o));
          children.push({ type: 'line', shape: { x1: o[0], y1: o[1], x2: tip[0], y2: tip[1] }, style: { stroke: '#111', lineWidth: 1.3 } });
          children.push(arrowHead(tip, o));
          children.push({ type: 'circle', shape: { cx: o[0], cy: o[1], r: 3 }, style: { fill: '#8a8a8a', stroke: '#000', lineWidth: 1.8 } });
          return { type: 'group', children };
        },
      });

      graphic.push({
        type: 'text', x: L.num[0], y: L.num[1], z: 10,
        style: { text: PANEL_NUMBERS[i], fontFamily: 'Lato', fontWeight: 'bold', fontSize: 20, fill: '#000', align: 'center', verticalAlign: 'middle' },
      });
      graphic.push({
        type: 'text', x: L.dir[0], y: L.dir[1], z: 10,
        style: { text: DIRECTION_LABELS[i], fontFamily: 'Lato', fontWeight: 'bold', fontSize: 14, fill: '#000', align: 'center', verticalAlign: 'middle' },
      });
      graphic.push({
        type: 'text', x: L.ant[0], y: L.ant[1], z: 10,
        style: { text: ANT_LABEL, fontFamily: 'Lato', fontWeight: 'bold', fontSize: 14, fill: '#000', align: 'center', verticalAlign: 'middle' },
      });
    });

    FRAME_LINES.forEach((f) => {
      graphic.push({ type: 'line', z: 0, shape: { x1: f[0], y1: f[1], x2: f[2], y2: f[3] }, style: { stroke: '#c4c4c4', lineWidth: 1 } });
    });

    chart.setOption({
      animation: false,
      backgroundColor: '#ffffff',
      grid, xAxis, yAxis, series, graphic,
    });
    return () => chart.dispose();
  }, []);

  return <div ref={ref} style={{ position: 'absolute', left: 0, top: 0, width: 1286, height: 441 }} />;
}
